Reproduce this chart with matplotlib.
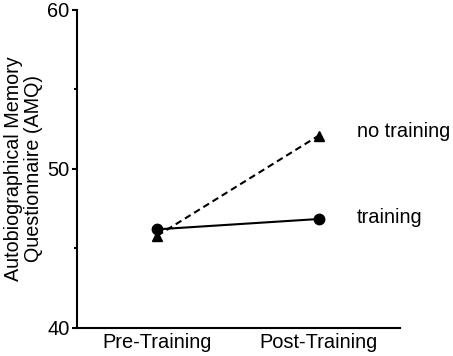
import matplotlib
matplotlib.use("Agg")
import matplotlib.pyplot as plt

plt.rcParams['font.family'] = ['Liberation Sans', 'DejaVu Sans']

# data
phases = ['Pre-Training', 'Post-Training']
training = [46.2, 46.85]
no_training = [45.8, 52.1]

fig = plt.figure(figsize=(4.53, 3.56), dpi=100)
ax = fig.add_axes([0.169, 0.079, 0.713, 0.893])

x = list(range(len(phases)))
ax.plot(x, training, color='black', linestyle='-', linewidth=1.5,
        marker='o', markersize=7.5, zorder=3)
ax.plot(x, no_training, color='black', linestyle=(0, (3.2, 2)), linewidth=1.5,
        marker='^', markersize=7.5, zorder=3)

ax.text(x[-1] + 0.235, no_training[-1] + 0.25, 'no training', fontsize=14.4, va='center', ha='left')
ax.text(x[-1] + 0.235, training[-1] + 0.1, 'training', fontsize=14.4, va='center', ha='left')

ax.set_xlim(-0.5, 1.5)
ax.set_ylim(40, 60)
ax.set_yticks([40, 50, 60])
ax.set_yticks([45, 55], minor=True)
ax.set_xticks(x)
ax.set_xticklabels(phases)
ax.set_ylabel('Autobiographical Memory\nQuestionnaire (AMQ)', fontsize=14.2,
              linespacing=1.05, labelpad=3)

ax.spines['top'].set_visible(False)
ax.spines['right'].set_visible(False)
for s in ['left', 'bottom']:
    ax.spines[s].set_linewidth(1.5)
ax.tick_params(axis='y', which='major', length=3.6, width=1.5, labelsize=14.4, pad=1.5)
ax.tick_params(axis='y', which='minor', length=2.5, width=1.5)
ax.tick_params(axis='x', length=0, labelsize=14.4, pad=4)

fig.savefig('out.png', dpi=100)
